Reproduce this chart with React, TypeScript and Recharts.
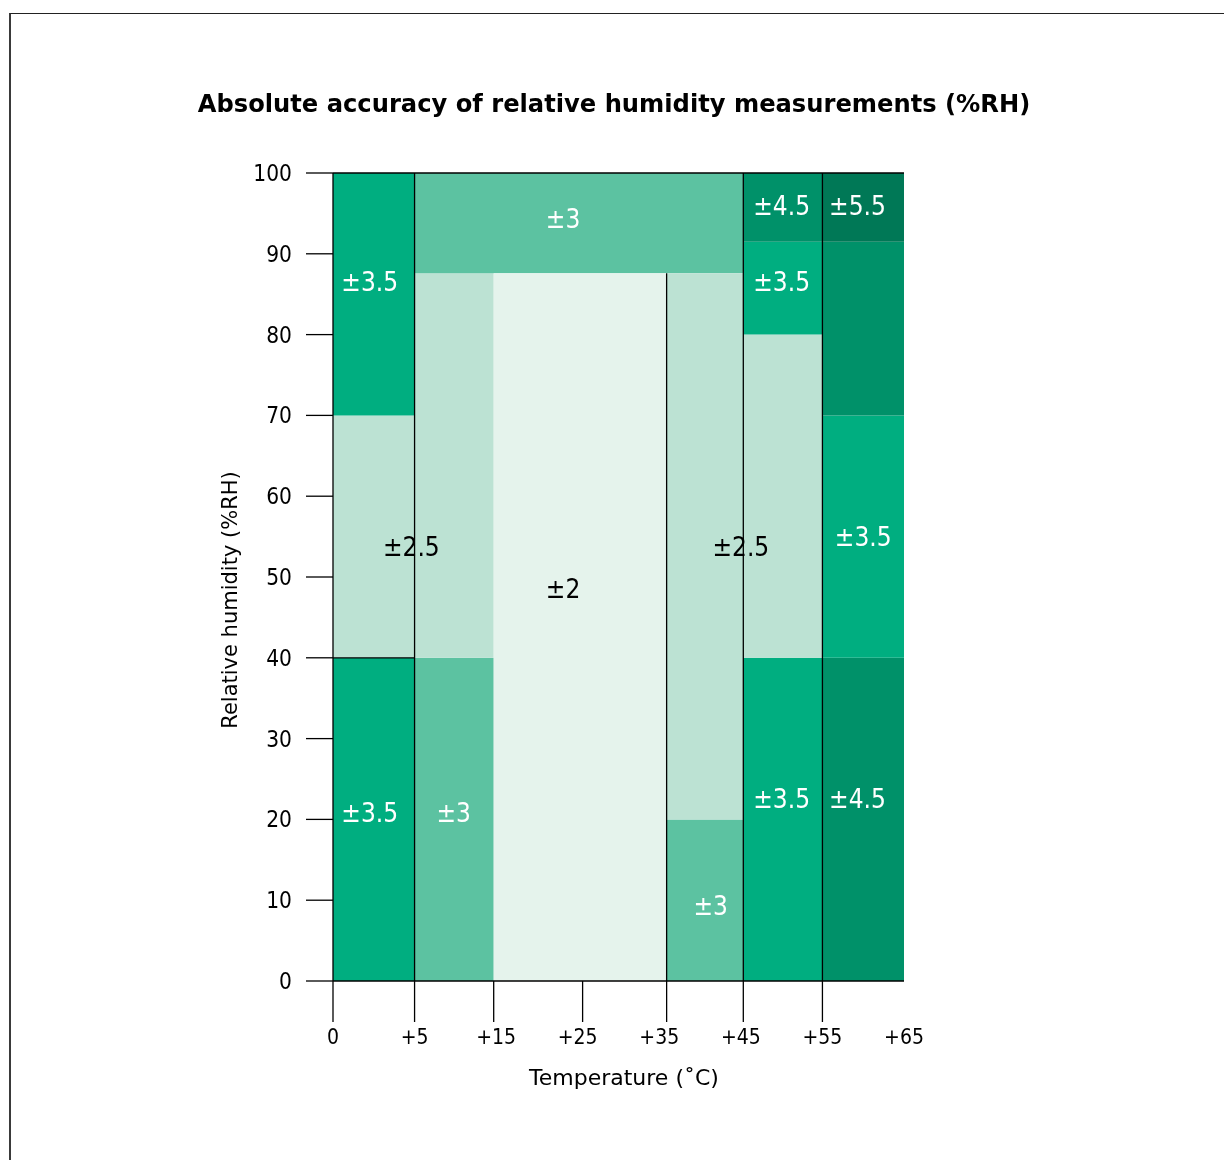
import React from "react"
import {
  ComposedChart,
  XAxis,
  YAxis,
  Scatter,
  ReferenceArea,
  ReferenceLine,
} from "recharts"

// x is the column index: 0 = 0°C, 1 = +5, 2 = +15 ... 7 = +65
const tempLabels = ["0", "+5", "+15", "+25", "+35", "+45", "+55", "+65"]
const tempIndex = [0, 1, 2, 3, 4, 5, 6, 7]
const tickLinePos = [0, 1, 1.97, 3.06, 4.09, 5.03, 6]
const rhTicks = [0, 10, 20, 30, 40, 50, 60, 70, 80, 90, 100]

// accuracy cells: x0, x1 (column index), y0, y1 (%RH), accuracy (±%RH)
const cells = [
  { x0: 0, x1: 1, y0: 0, y1: 40, acc: 3.5 },
  { x0: 0, x1: 1, y0: 40, y1: 70, acc: 2.5 },
  { x0: 0, x1: 1, y0: 70, y1: 100, acc: 3.5 },
  { x0: 1, x1: 1.97, y0: 0, y1: 40, acc: 3 },
  { x0: 1, x1: 1.97, y0: 40, y1: 87.6, acc: 2.5 },
  { x0: 1, x1: 5.03, y0: 87.6, y1: 100, acc: 3 },
  { x0: 1.97, x1: 4.09, y0: 0, y1: 87.6, acc: 2 },
  { x0: 4.09, x1: 5.03, y0: 0, y1: 20, acc: 3 },
  { x0: 4.09, x1: 5.03, y0: 20, y1: 87.6, acc: 2.5 },
  { x0: 5.03, x1: 6, y0: 0, y1: 40, acc: 3.5 },
  { x0: 5.03, x1: 6, y0: 40, y1: 80, acc: 2.5 },
  { x0: 5.03, x1: 6, y0: 80, y1: 91.5, acc: 3.5 },
  { x0: 5.03, x1: 6, y0: 91.5, y1: 100, acc: 4.5 },
  { x0: 6, x1: 7, y0: 0, y1: 40, acc: 4.5 },
  { x0: 6, x1: 7, y0: 40, y1: 70, acc: 3.5 },
  { x0: 6, x1: 7, y0: 70, y1: 91.5, acc: 4.5 },
  { x0: 6, x1: 7, y0: 91.5, y1: 100, acc: 5.5 },
]

const cellLabels = [
  { x: 0.45, y: 86.5, acc: 3.5 },
  { x: 2.82, y: 94.3, acc: 3 },
  { x: 5.5, y: 95.9, acc: 4.5 },
  { x: 6.43, y: 95.9, acc: 5.5 },
  { x: 5.5, y: 86.5, acc: 3.5 },
  { x: 0.96, y: 53.7, acc: 2.5 },
  { x: 2.82, y: 48.5, acc: 2 },
  { x: 5.0, y: 53.7, acc: 2.5 },
  { x: 6.5, y: 55, acc: 3.5 },
  { x: 0.45, y: 20.8, acc: 3.5 },
  { x: 1.48, y: 20.8, acc: 3 },
  { x: 4.63, y: 9.3, acc: 3 },
  { x: 5.5, y: 22.6, acc: 3.5 },
  { x: 6.43, y: 22.6, acc: 4.5 },
]

// black borders between some of the cells
const borders = [
  { x0: 0, y0: 100, x1: 7, y1: 100 },
  { x0: 0, y0: 0, x1: 0, y1: 100 },
  { x0: 1, y0: 0, x1: 1, y1: 100 },
  { x0: 4.09, y0: 0, x1: 4.09, y1: 87.6 },
  { x0: 5.03, y0: 0, x1: 5.03, y1: 100 },
  { x0: 6, y0: 0, x1: 6, y1: 100 },
  { x0: 0, y0: 40, x1: 1, y1: 40 },
]

const accColors: Record<number, string> = {
  2: "#e5f3ec",
  2.5: "#bce2d3",
  3: "#5cc2a1",
  3.5: "#00ae80",
  4.5: "#009169",
  5.5: "#007856",
}

const font = '"DejaVu Sans Condensed", "DejaVu Sans", sans-serif'
const titleFont = '"DejaVu Sans", sans-serif'

const xTicks = Array.from(new Set([...tempIndex, ...tickLinePos])).sort((a, b) => a - b)

function TempTick(props: any) {
  const { x, y, payload } = props
  const v = payload.value
  const idx = tempIndex.indexOf(v)
  return (
    <g>
      {tickLinePos.includes(v) && <line x1={x} x2={x} y1={y} y2={y + 41} stroke="#000" strokeWidth={1.3} />}
      {idx >= 0 && (
        <text x={x} y={y + 55} dy="0.36em" textAnchor="middle" fontSize={21} fontFamily={font} fill="#000">
          {tempLabels[idx]}
        </text>
      )}
    </g>
  )
}

function AccLabel(props: any) {
  const { cx, cy, payload } = props
  const light = payload.acc <= 2.5
  return (
    <text
      x={cx}
      y={cy}
      dy="0.36em"
      textAnchor="middle"
      fontSize={26}
      fontFamily={font}
      fill={light ? "#000" : "#fff"}
    >
      {"±" + payload.acc}
    </text>
  )
}

export default function App() {
  return (
    <div style={{ position: "relative", width: 1200, height: 1130 }}>
      <div
        style={{
          position: "fixed",
          left: 9,
          top: 13,
          right: -20,
          bottom: -20,
          borderTop: "1px solid #222",
          borderLeft: "2px solid #3a3a3a",
        }}
      />
      <div
        style={{
          position: "absolute",
          left: 0,
          width: 1212,
          top: 82,
          textAlign: "center",
          fontFamily: titleFont,
          fontWeight: "bold",
          fontSize: 24.2,
          color: "#000",
        }}
      >
        Absolute accuracy of relative humidity measurements (%RH)
      </div>
      <div style={{ position: "absolute", left: 0, top: 0 }}>
        <ComposedChart
          width={996}
          height={1100}
          margin={{ top: 165, right: 100, bottom: 27, left: 265 }}
        >
          <XAxis
            type="number"
            dataKey="x"
            domain={[0, 7]}
            ticks={xTicks}
            interval={0}
            allowDataOverflow
            height={100}
            tickSize={0}
            tickMargin={0}
            axisLine={{ stroke: "#000", strokeWidth: 1.3 }}
            tick={<TempTick />}
          />
          <YAxis
            type="number"
            dataKey="y"
            domain={[0, 100]}
            ticks={rhTicks}
            interval={0}
            allowDataOverflow
            width={60}
            tickSize={27}
            tickMargin={14}
            axisLine={false}
            tickLine={{ stroke: "#000", strokeWidth: 1.3 }}
            tick={{ fill: "#000", fontSize: 22.5, fontFamily: font }}
          />
          {cells.map((c, i) => (
            <ReferenceArea
              key={"c" + i}
              x1={c.x0}
              x2={c.x1}
              y1={c.y0}
              y2={c.y1}
              fill={accColors[c.acc]}
              fillOpacity={1}
              stroke="none"
              ifOverflow="visible"
            />
          ))}
          <Scatter data={cellLabels} shape={<AccLabel />} isAnimationActive={false} />
          {borders.map((b, i) => (
            <ReferenceLine
              key={"b" + i}
              segment={[
                { x: b.x0, y: b.y0 },
                { x: b.x1, y: b.y1 },
              ]}
              stroke="#000"
              strokeWidth={1.3}
              ifOverflow="visible"
            />
          ))}
        </ComposedChart>
      </div>
      <div
        style={{
          position: "absolute",
          left: 222 - 150,
          top: 592 - 14,
          width: 300,
          textAlign: "center",
          transform: "rotate(-90deg)",
          fontFamily: titleFont,
          fontSize: 21,
          lineHeight: "28px",
          color: "#000",
        }}
      >
        Relative humidity (%RH)
      </div>
      <div
        style={{
          position: "absolute",
          left: 616 - 150,
          top: 1070 - 14,
          width: 300,
          textAlign: "center",
          fontFamily: titleFont,
          fontSize: 22,
          lineHeight: "28px",
          color: "#000",
        }}
      >
        Temperature (˚C)
      </div>
    </div>
  )
}
